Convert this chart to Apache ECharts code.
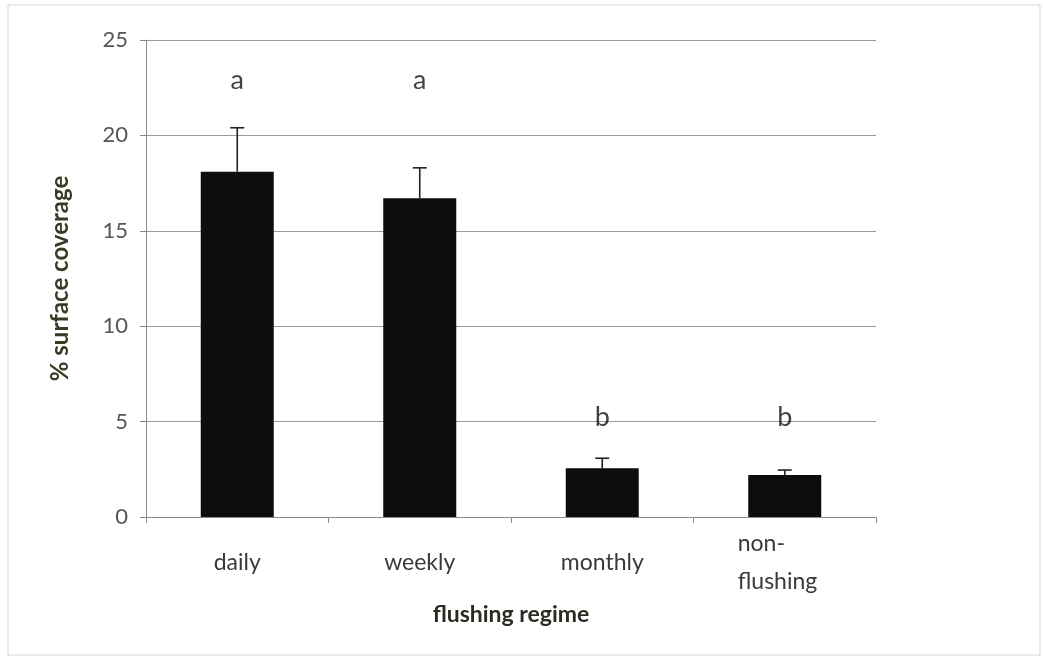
<!DOCTYPE html>
<html>
<head>
<meta charset="utf-8">
<script src="https://cdn.jsdelivr.net/npm/echarts@6/dist/echarts.min.js"></script>
<style>
  html, body { margin: 0; padding: 0; background: #fff; }
  #main { width: 1043px; height: 659px; }
</style>
</head>
<body>
<div id="main"></div>
<script>
// data
var categories = ['daily', 'weekly', 'monthly', 'non-\nflushing'];
var coverage = [18.1, 16.7, 2.55, 2.2];       // bar heights
var errorTop = [20.4, 18.3, 3.08, 2.46];      // upper end of error bar
var sigLetters = ['a', 'a', 'b', 'b'];        // significance groups
var letterY = [22.9, 22.9, 5.2, 5.2];         // where letters sit
var yTicks = [0, 5, 10, 15, 20, 25];

var chartDom = document.getElementById('main');
var myChart = echarts.init(chartDom);
var option;

var font = 'Lato, "Open Sans", sans-serif';

option = {
  animation: false,
  backgroundColor: '#fff',
  graphic: [
    { // faint frame round the picture
      type: 'rect',
      shape: { x: 8, y: 5, width: 1032, height: 650 },
      style: { fill: 'none', stroke: '#d6d6d6', lineWidth: 1 }
    }
  ],
  grid: {
    left: 146,
    right: 167,
    top: 40,
    bottom: 142
  },
  xAxis: {
    type: 'category',
    data: categories,
    name: 'flushing regime',
    nameLocation: 'middle',
    nameGap: 86,
    nameTextStyle: {
      fontFamily: font,
      fontWeight: 'bold',
      fontSize: 23,
      color: '#2b2b22'
    },
    axisLine: { lineStyle: { color: '#8a8a8a', width: 1 } },
    axisTick: { show: true, alignWithLabel: false, length: 6, lineStyle: { color: '#8a8a8a' } },
    axisLabel: {
      margin: 46,
      verticalAlign: 'middle',
      fontFamily: font,
      fontSize: 23,
      color: '#3a3a3a',
      formatter: function (v) {
        var key = v.indexOf('\n') >= 0 ? 'm' : 'l';
        return v.split('\n').map(function (s) { return '{' + key + '|' + s + '}'; }).join('\n');
      },
      rich: {
        l: { fontFamily: font, fontSize: 23, color: '#3a3a3a', lineHeight: 38 },
        m: { fontFamily: font, fontSize: 23, color: '#3a3a3a', lineHeight: 38, width: 94, align: 'left' }
      }
    }
  },
  yAxis: {
    type: 'value',
    min: 0,
    max: 25,
    interval: 5,
    name: '% surface coverage',
    nameLocation: 'middle',
    nameGap: 74,
    nameRotate: 90,
    nameTextStyle: {
      fontFamily: font,
      fontWeight: 'bold',
      fontSize: 24,
      color: '#3b3a25'
    },
    axisLine: { show: true, lineStyle: { color: '#8a8a8a', width: 1 } },
    axisTick: { show: true, length: 6, lineStyle: { color: '#8a8a8a' } },
    axisLabel: {
      margin: 18,
      fontFamily: font,
      fontSize: 22,
      color: '#555',
      formatter: function (v) { return yTicks.indexOf(v) >= 0 ? String(v) : ''; }
    },
    splitLine: { lineStyle: { color: '#9a9a9a', width: 1 } }
  },
  series: [
    {
      name: 'coverage',
      type: 'bar',
      barWidth: '40%',
      data: coverage,
      itemStyle: { color: '#0d0d0d' },
      z: 2
    },
    {
      name: 'error',
      type: 'custom',
      z: 3,
      data: errorTop.map(function (e, i) { return [i, coverage[i], e]; }),
      renderItem: function (params, api) {
        var base = api.coord([api.value(0), api.value(1)]);
        var top = api.coord([api.value(0), api.value(2)]);
        var cap = 7;
        return {
          type: 'group',
          children: [
            {
              type: 'line',
              shape: { x1: base[0], y1: base[1], x2: top[0], y2: top[1] },
              style: { stroke: '#222', lineWidth: 1.6 }
            },
            {
              type: 'line',
              shape: { x1: top[0] - cap, y1: top[1], x2: top[0] + cap, y2: top[1] },
              style: { stroke: '#222', lineWidth: 1.6 }
            }
          ]
        };
      }
    },
    {
      name: 'letters',
      type: 'scatter',
      symbolSize: 1,
      itemStyle: { color: 'transparent' },
      data: letterY.map(function (y, i) { return { value: [i, y], name: sigLetters[i] }; }),
      label: {
        show: true,
        position: 'inside',
        formatter: function (p) { return p.name; },
        fontFamily: font,
        fontSize: 27,
        color: '#111'
      }
    }
  ]
};

option && myChart.setOption(option);

window.onresize = function () {
  myChart.resize();
};
</script>
</body>
</html>
